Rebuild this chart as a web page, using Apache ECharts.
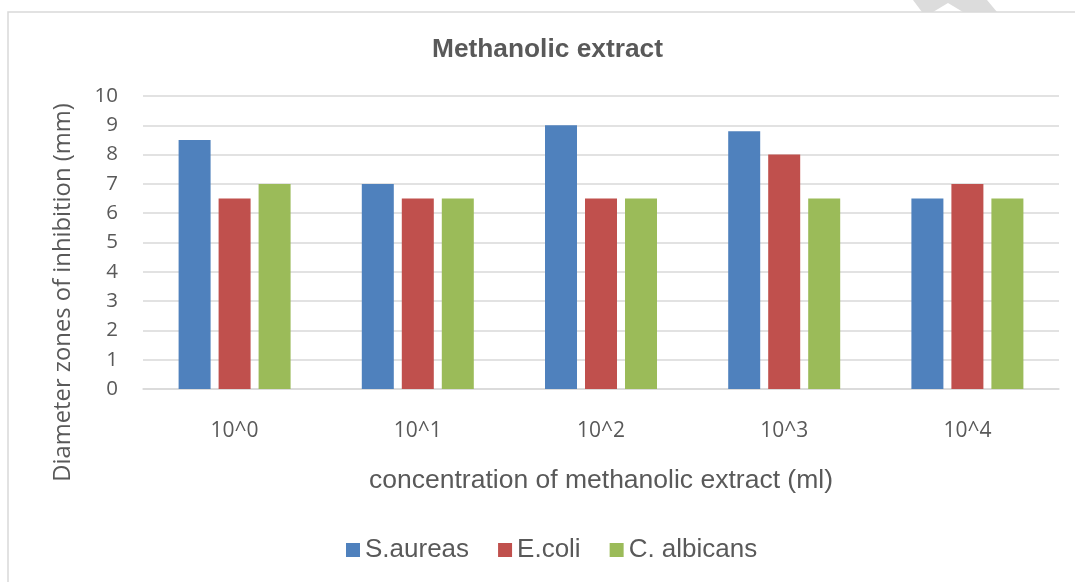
<!DOCTYPE html>
<html><head><meta charset="utf-8">
<script src="https://cdn.jsdelivr.net/npm/echarts@6/dist/echarts.min.js"></script>
<style>html,body{margin:0;padding:0;background:#fff}#c{width:1075px;height:582px}</style>
</head><body><div id="c"></div>
<script>
const categories = ['10^0', '10^1', '10^2', '10^3', '10^4'];
const sAureas = [8.5, 7, 9, 8.8, 6.5];
const eColi = [6.5, 6.5, 6.5, 8, 7];
const cAlbicans = [7, 6.5, 6.5, 6.5, 6.5];
const seriesNames = ['S.aureas', 'E.coli', 'C. albicans'];
const colors = ['#4f81bd', '#c0504d', '#9bbb59'];

const chart = echarts.init(document.getElementById('c'), null, {renderer: 'canvas'});
const txt = '#595959';
const mk = (name, data, color) => ({
  name, type: 'bar', data, barWidth: 32, barGap: '25%',
  itemStyle: {color}
});
chart.setOption({
  animation: false,
  backgroundColor: '#fff',
  title: {text: 'Methanolic extract', left: 432, top: 37, padding: 0,
    textStyle: {fontFamily: 'Liberation Sans', fontSize: 26.3, fontWeight: 'bold', color: txt}},
  graphic: [
    {type: 'polygon', shape: {points: [[913,0],[987,0],[997,12],[963,12],[948,3],[933,12],[922,12]]},
      style: {fill: '#dcdcdc'}, z: 0},
    {type: 'rect', shape: {x: 8, y: 12, width: 1200, height: 700},
      style: {fill: null, stroke: '#d9d9d9', lineWidth: 1.5}, z: 0}
  ],
  legend: {bottom: 14, left: 341, itemWidth: 14, itemHeight: 14, itemGap: 29,
    icon: 'rect', textStyle: {fontFamily: 'Liberation Sans', fontSize: 26, color: txt},
    data: seriesNames},
  grid: {left: 143, right: 16, top: 96, bottom: 193},
  xAxis: {type: 'category', data: categories,
    axisLine: {lineStyle: {color: '#d9d9d9', width: 1.5}}, axisTick: {show: false},
    axisLabel: {margin: 32, fontFamily: 'Open Sans', fontSize: 21, color: txt},
    name: 'concentration of methanolic extract (ml)', nameLocation: 'middle', nameGap: 78,
    nameTextStyle: {fontFamily: 'Liberation Sans', fontSize: 26.5, color: txt}},
  yAxis: {type: 'value', min: 0, max: 10, interval: 1,
    splitLine: {lineStyle: {color: '#d9d9d9', width: 1.5}},
    axisLine: {show: false}, axisTick: {show: false},
    axisLabel: {margin: 25, fontFamily: 'Open Sans', fontSize: 20.5, color: txt},
    name: 'Diameter zones of inhibition (mm)', nameLocation: 'middle', nameGap: 68,
    nameTextStyle: {fontFamily: 'Open Sans', fontSize: 23.8, color: txt, padding: [0, 100, 0, 0]}},
  series: [mk(seriesNames[0], sAureas, colors[0]), mk(seriesNames[1], eColi, colors[1]), mk(seriesNames[2], cAlbicans, colors[2])]
});
</script></body></html>
